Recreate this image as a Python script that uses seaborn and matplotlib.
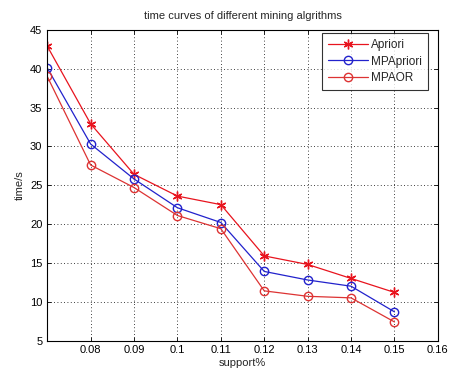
import matplotlib
matplotlib.use("Agg")
import matplotlib.pyplot as plt
import seaborn as sns
import pandas as pd

support = [0.07, 0.08, 0.09, 0.10, 0.11, 0.12, 0.13, 0.14, 0.15]
apriori = [42.9, 32.9, 26.4, 23.6, 22.5, 15.9, 14.8, 13.0, 11.2]
mpapriori = [40.1, 30.3, 25.8, 22.1, 20.2, 13.9, 12.8, 12.0, 8.7]
mpaor = [39.0, 27.6, 24.7, 21.1, 19.4, 11.4, 10.7, 10.5, 7.4]
series_names = ["Apriori", "MPApriori", "MPAOR"]
xticks = [0.08, 0.09, 0.1, 0.11, 0.12, 0.13, 0.14, 0.15, 0.16]
xtick_labels = ["0.08", "0.09", "0.1", "0.11", "0.12", "0.13", "0.14", "0.15", "0.16"]
yticks = [5, 10, 15, 20, 25, 30, 35, 40, 45]

df = pd.concat([
    pd.DataFrame({"support": support, "time": vals, "alg": name})
    for name, vals in zip(series_names, [apriori, mpapriori, mpaor])
])

sns.set_theme(style="white")
plt.rcParams['font.family'] = ['Liberation Sans', 'DejaVu Sans']
plt.rcParams['legend.numpoints'] = 1

fig = plt.figure(figsize=(4.5, 3.78), dpi=100)
ax = fig.add_axes([0.105, 0.099, 0.868, 0.822])

colors = {"Apriori": "#e8141e", "MPApriori": "#2222cc", "MPAOR": "#dd3333"}
markers = {"Apriori": (6, 2, 0), "MPApriori": "o", "MPAOR": "o"}
sizes = {"Apriori": 7, "MPApriori": 6, "MPAOR": 6}
for name in series_names:
    sub = df[df["alg"] == name]
    sns.lineplot(data=sub, x="support", y="time", ax=ax, color=colors[name],
                 marker=markers[name], markersize=sizes[name], linewidth=0.9,
                 markerfacecolor="none", markeredgecolor=colors[name],
                 markeredgewidth=1.0, label=name)

ax.set_xlim(0.07, 0.16)
ax.set_ylim(5, 45)
ax.set_xticks(xticks)
ax.set_xticklabels(xtick_labels)
ax.set_yticks(yticks)
ax.grid(True, color="black", linestyle=(0, (1, 3)), linewidth=0.6)
for s in ax.spines.values():
    s.set_color("black")
    s.set_linewidth(0.8)
ax.tick_params(direction="in", length=3, width=0.6, colors="black", labelsize=8,
               top=True, right=True, bottom=True, left=True)
ax.set_xlabel("support%", fontsize=8, labelpad=2)
ax.set_ylabel("time/s", fontsize=8, labelpad=4)
ax.set_title("time curves of different mining algrithms", fontsize=8, pad=8)

leg = ax.legend(loc="upper right", fontsize=8.5, frameon=True, fancybox=False,
                edgecolor="black", borderpad=0.5, handlelength=3.4,
                labelspacing=0.4, handletextpad=0.3, borderaxespad=0,
                bbox_to_anchor=(0.975, 0.99))
leg.get_frame().set_linewidth(0.8)

fig.savefig("out.png", dpi=100, facecolor="white")
